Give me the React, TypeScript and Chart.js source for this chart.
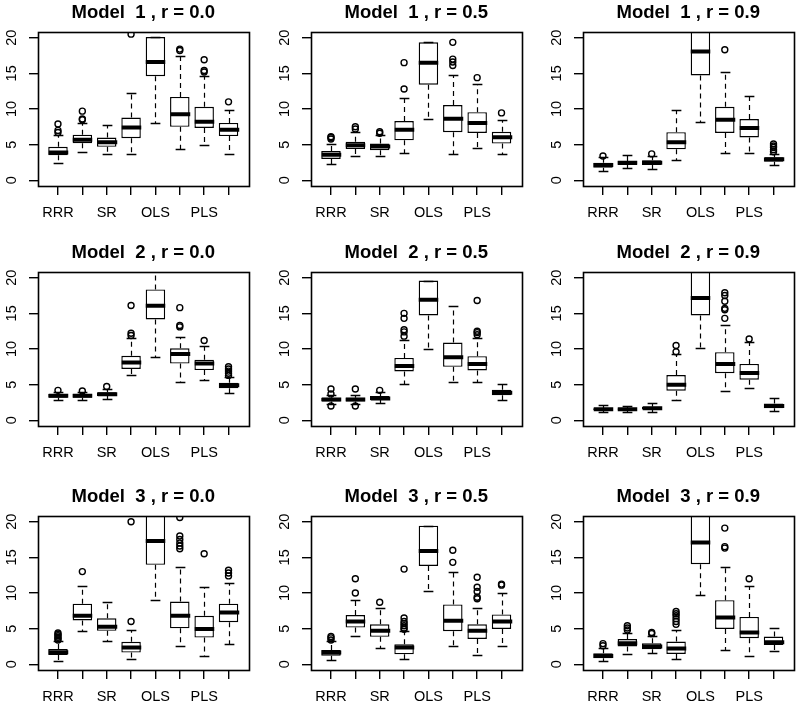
import React, { useEffect, useRef } from "react";
import { Chart, registerables } from "chart.js";

Chart.register(...registerables);

// ---------- data ----------
const methodLabels = ["RRR", "", "SR", "", "OLS", "", "PLS", ""];
const boxPositions = [1, 2, 3, 4, 5, 6, 7, 8];
const yTickValues = [0, 5, 10, 15, 20];
const models = [1, 2, 3];
const rValues = ["0.0", "0.5", "0.9"];

// one row per panel, reading order: M1 r0.0, M1 r0.5, M1 r0.9, M2 r0.0, ...
const whiskerLow: number[][] = [
  [2.4, 3.9, 3.7, 3.7, 8.0, 4.4, 5.0, 3.7],
  [2.3, 3.35, 3.35, 3.8, 8.6, 3.7, 4.6, 3.7],
  [1.3, 1.75, 1.65, 2.9, 8.15, 3.85, 3.8, 2.1],
  [2.9, 2.9, 2.95, 6.3, 8.9, 5.35, 5.6, 3.85],
  [2.3, 2.3, 2.45, 5.05, 10.0, 5.35, 5.35, 2.85],
  [1.15, 1.15, 1.2, 2.9, 10.2, 4.1, 4.5, 1.25],
  [0.5, 4.65, 3.2, 0.7, 8.95, 2.55, 1.2, 2.9],
  [0.6, 4.0, 2.35, 0.75, 10.35, 2.55, 1.3, 2.5],
  [0.5, 1.45, 1.55, 0.7, 9.65, 2.0, 1.15, 1.85],
];
const quartile1: number[][] = [
  [3.5, 5.2, 4.7, 5.9, 14.6, 7.5, 7.35, 6.2],
  [3.0, 4.4, 4.2, 5.6, 13.4, 6.75, 6.65, 5.15],
  [1.75, 2.15, 2.15, 4.35, 14.7, 6.65, 6.0, 2.6],
  [3.15, 3.15, 3.4, 7.2, 14.15, 7.95, 7.05, 4.5],
  [2.65, 2.65, 2.85, 6.85, 14.7, 7.5, 7.0, 3.5],
  [1.4, 1.4, 1.5, 4.15, 14.7, 6.6, 5.7, 1.7],
  [1.3, 6.15, 4.7, 1.65, 13.95, 5.05, 3.75, 5.9],
  [1.2, 5.15, 3.85, 1.4, 13.8, 4.65, 3.55, 4.95],
  [0.85, 2.5, 2.1, 1.45, 14.05, 4.95, 3.65, 2.7],
];
const medians: number[][] = [
  [3.9, 5.7, 5.35, 7.4, 16.6, 9.25, 8.2, 7.1],
  [3.6, 4.9, 4.75, 7.1, 16.5, 8.65, 8.05, 6.05],
  [2.15, 2.45, 2.45, 5.35, 18.05, 8.5, 7.35, 2.95],
  [3.45, 3.45, 3.65, 8.1, 16.05, 9.3, 7.95, 4.9],
  [2.9, 2.9, 3.05, 7.6, 16.9, 8.85, 7.9, 3.85],
  [1.55, 1.55, 1.7, 5.0, 17.15, 7.9, 6.65, 2.0],
  [1.7, 6.8, 5.25, 2.35, 17.3, 6.8, 4.95, 7.25],
  [1.65, 6.0, 4.7, 2.35, 15.9, 6.1, 4.7, 6.0],
  [1.15, 2.95, 2.5, 2.2, 17.1, 6.55, 4.45, 3.1],
];
const quartile3: number[][] = [
  [4.7, 6.4, 6.0, 8.8, 20.1, 11.7, 10.3, 8.05],
  [4.1, 5.4, 5.15, 8.3, 19.35, 10.55, 9.55, 6.8],
  [2.45, 2.7, 2.8, 6.75, 23, 10.3, 8.6, 3.25],
  [3.7, 3.7, 3.95, 9.05, 18.35, 10.1, 8.5, 5.25],
  [3.15, 3.15, 3.4, 8.75, 19.6, 10.9, 9.0, 4.3],
  [1.7, 1.7, 1.9, 6.35, 23, 9.55, 7.9, 2.35],
  [2.15, 8.5, 6.45, 3.15, 23, 8.8, 6.8, 8.5],
  [2.0, 6.9, 5.6, 2.8, 19.45, 8.4, 5.6, 7.0],
  [1.55, 3.55, 2.95, 3.2, 23, 9.0, 6.65, 3.9],
];
const whiskerHigh: number[][] = [
  [6.3, 8.0, 7.7, 12.2, 20.1, 17.4, 14.6, 9.9],
  [5.1, 6.8, 6.3, 11.6, 19.35, 14.8, 13.5, 8.4],
  [3.2, 3.6, 3.4, 9.9, 25, 15.2, 11.85, 3.75],
  [4.0, 3.95, 4.4, 11.5, 23, 11.7, 10.45, 6.1],
  [3.5, 3.6, 3.95, 11.3, 19.6, 16.0, 11.6, 5.1],
  [2.1, 2.05, 2.45, 9.3, 25, 13.35, 11.05, 3.1],
  [3.2, 11.05, 8.8, 4.8, 25, 13.6, 10.8, 11.45],
  [3.2, 9.05, 7.95, 4.7, 19.45, 13.0, 7.95, 10.0],
  [2.35, 4.45, 4.0, 4.75, 25, 13.7, 11.0, 5.15],
];
const outliers: number[][][] = [
  [[6.7, 7.0, 7.9], [8.5, 8.6, 9.7], [], [20.5], [], [18.2, 18.4], [15.2, 15.4, 16.9], [11.0]],
  [[5.8, 6.0, 6.1], [7.2, 7.5], [6.6, 6.8], [12.8, 16.5], [], [16.1, 16.6, 17.0, 19.35], [14.4], [9.45]],
  [[3.4], [], [3.7], [], [], [18.3], [], [4.0, 4.3, 4.6, 4.8, 5.1]],
  [[4.2], [4.1], [4.75], [11.9, 12.2, 16.1], [], [13.1, 13.3, 15.8], [11.2], [6.3, 6.6, 6.9, 7.2, 7.5]],
  [[2.0, 3.7, 4.4], [2.0, 4.4], [4.2], [11.8, 12.4, 12.7, 14.3, 15.0], [], [], [12.0, 12.3, 12.5, 16.8], []],
  [[], [], [], [9.6, 10.5], [], [14.3, 15.5, 15.7, 16.7, 17.5, 17.9], [11.4], []],
  [[3.4, 3.6, 3.8, 4.0, 4.2, 4.4], [13.0], [], [6.0, 20.0], [], [16.2, 16.6, 17.0, 17.5, 18.0, 20.6], [15.5], [12.4, 12.8, 13.2]],
  [[3.4, 3.7, 3.9], [10.0, 12.0], [8.7], [4.9, 5.1, 5.4, 5.7, 6.0, 6.5, 13.35], [], [14.3, 16.0], [9.2, 9.4, 10.2, 10.8, 12.2], [11.1, 11.25]],
  [[2.6, 2.9], [4.8, 5.1, 5.4], [4.3, 4.45], [5.6, 6.0, 6.4, 6.8, 7.1, 7.4], [], [16.3, 16.5, 19.1], [12.0], []],
];

// ---------- layout / style ----------
const FONT = "'Liberation Sans', Arial, Helvetica, sans-serif";
const CANVAS_W = 256;
const CANVAS_H = 228;
const PLOT_LEFT = 38;
const PLOT_W = 210.5;
const PLOT_TOP = 32;
const PLOT_H = 154;
const XAXIS_H = 40;
const colLefts = [0, 273, 545];
const rowTops = [0, 240, 484];
const BOX_WIDTH = 0.8;
const STAPLE_WIDTH = 0.4;
const LINE_W = 1.4;

function makeBoxPlugin(p: number) {
  return {
    id: "boxParts" + p,
    afterDatasetsDraw(chart: any) {
      const { ctx, chartArea: a, scales } = chart;
      const xs = scales.x;
      const ys = scales.y;
      const line = (x1: number, y1: number, x2: number, y2: number) => {
        ctx.beginPath();
        ctx.moveTo(x1, y1);
        ctx.lineTo(x2, y2);
        ctx.stroke();
      };
      ctx.save();
      ctx.beginPath();
      ctx.rect(a.left, a.top, a.right - a.left, a.bottom - a.top);
      ctx.clip();
      ctx.strokeStyle = "#000";
      ctx.lineCap = "butt";
      for (let i = 0; i < boxPositions.length; i++) {
        const pos = boxPositions[i];
        const xc = Math.round(xs.getPixelForValue(pos)) + 0.5;
        const halfBox = xs.getPixelForValue(pos + BOX_WIDTH / 2) - xs.getPixelForValue(pos);
        const halfStaple = xs.getPixelForValue(pos + STAPLE_WIDTH / 2) - xs.getPixelForValue(pos);
        const yLow = Math.round(ys.getPixelForValue(whiskerLow[p][i])) + 0.5;
        const yQ1 = ys.getPixelForValue(quartile1[p][i]);
        const yMed = ys.getPixelForValue(medians[p][i]);
        const yQ3 = ys.getPixelForValue(quartile3[p][i]);
        const yHigh = Math.round(ys.getPixelForValue(whiskerHigh[p][i])) + 0.5;
        ctx.lineWidth = 1.2;
        ctx.setLineDash([5, 4]);
        if (yLow > yQ1) line(xc, yQ1, xc, yLow);
        if (yHigh < yQ3) line(xc, yQ3, xc, yHigh);
        ctx.setLineDash([]);
        ctx.lineWidth = LINE_W;
        line(xc - halfStaple, yLow, xc + halfStaple, yLow);
        line(xc - halfStaple, yHigh, xc + halfStaple, yHigh);
        ctx.lineWidth = 4;
        line(xc - halfBox, yMed, xc + halfBox, yMed);
      }
      ctx.restore();
      ctx.save();
      ctx.strokeStyle = "#000";
      ctx.lineWidth = 1.6;
      ctx.strokeRect(
        Math.round(a.left) + 0.5,
        Math.round(a.top) + 0.5,
        Math.round(a.right) - Math.round(a.left),
        Math.round(a.bottom) - Math.round(a.top)
      );
      ctx.restore();
    },
  };
}

function Panel({ p, left, top }: { p: number; left: number; top: number }) {
  const ref = useRef<HTMLCanvasElement | null>(null);
  useEffect(() => {
    if (!ref.current) return;
    const model = models[Math.floor(p / 3)];
    const r = rValues[p % 3];
    const boxData = boxPositions.map((x, i) => ({ x, y: [quartile1[p][i], quartile3[p][i]] }));
    const outlierData: { x: number; y: number }[] = [];
    boxPositions.forEach((x, i) => outliers[p][i].forEach((v) => outlierData.push({ x, y: v })));
    const titleLH = 18.5 * 1.2;
    const chart = new Chart(ref.current, {
      type: "bar",
      data: {
        datasets: [
          {
            type: "bar",
            data: boxData as any,
            backgroundColor: "#ffffff",
            borderColor: "#000000",
            borderWidth: LINE_W,
            borderSkipped: false,
            barPercentage: BOX_WIDTH,
            categoryPercentage: 1,
            grouped: false,
          } as any,
          {
            type: "scatter",
            data: outlierData,
            pointStyle: "circle",
            pointRadius: 3,
            pointBackgroundColor: "rgba(0,0,0,0)",
            pointBorderColor: "#000000",
            pointBorderWidth: 1.4,
            showLine: false,
          } as any,
        ],
      },
      options: {
        responsive: false,
        animation: false,
        devicePixelRatio: 1,
        events: [],
        layout: {
          padding: {
            left: 0,
            top: 0,
            right: CANVAS_W - PLOT_LEFT - PLOT_W,
            bottom: CANVAS_H - PLOT_TOP - PLOT_H - XAXIS_H,
          },
        },
        plugins: {
          legend: { display: false },
          tooltip: { enabled: false },
          title: {
            display: true,
            fullSize: false,
            text: `Model  ${model} , r = ${r}`,
            color: "#000",
            font: { family: FONT, size: 18.5, weight: "bold", lineHeight: 1.2 },
            padding: { top: 2, bottom: PLOT_TOP - 2 - titleLH },
          },
        },
        scales: {
          x: {
            type: "linear",
            min: 0.18,
            max: 8.82,
            offset: false,
            afterBuildTicks: (s: any) => {
              s.ticks = boxPositions.map((v) => ({ value: v }));
            },
            afterFit: (s: any) => {
              s.height = XAXIS_H;
            },
            border: { display: false },
            grid: {
              offset: false,
              drawOnChartArea: false,
              drawTicks: true,
              tickLength: 9,
              color: "#000",
              lineWidth: LINE_W,
            },
            ticks: {
              autoSkip: false,
              minRotation: 0,
              maxRotation: 0,
              padding: 9,
              color: "#000",
              font: { family: FONT, size: 14.5 },
              callback: (_v: any, i: number) => methodLabels[i],
            },
          },
          y: {
            type: "linear",
            min: -0.8,
            max: 20.8,
            afterBuildTicks: (s: any) => {
              s.ticks = yTickValues.map((v) => ({ value: v }));
            },
            afterFit: (s: any) => {
              s.width = PLOT_LEFT;
            },
            border: { display: false },
            grid: {
              drawOnChartArea: false,
              drawTicks: true,
              tickLength: 9,
              color: "#000",
              lineWidth: LINE_W,
            },
            ticks: {
              minRotation: 90,
              maxRotation: 90,
              crossAlign: "center",
              padding: 9,
              color: "#000",
              font: { family: FONT, size: 14.5 },
              callback: (v: any) => String(v),
            },
          },
        } as any,
      },
      plugins: [makeBoxPlugin(p)],
    } as any);
    return () => chart.destroy();
  }, [p]);
  return (
    <canvas
      ref={ref}
      width={CANVAS_W}
      height={CANVAS_H}
      style={{ position: "absolute", left, top, width: CANVAS_W, height: CANVAS_H }}
    />
  );
}

export default function App() {
  const panels = [];
  for (let p = 0; p < 9; p++) {
    panels.push(<Panel key={p} p={p} left={colLefts[p % 3]} top={rowTops[Math.floor(p / 3)]} />);
  }
  return (
    <div
      style={{
        position: "absolute",
        left: 0,
        top: 0,
        width: 800,
        height: 709,
        background: "#ffffff",
        overflow: "hidden",
      }}
    >
      {panels}
    </div>
  );
}
